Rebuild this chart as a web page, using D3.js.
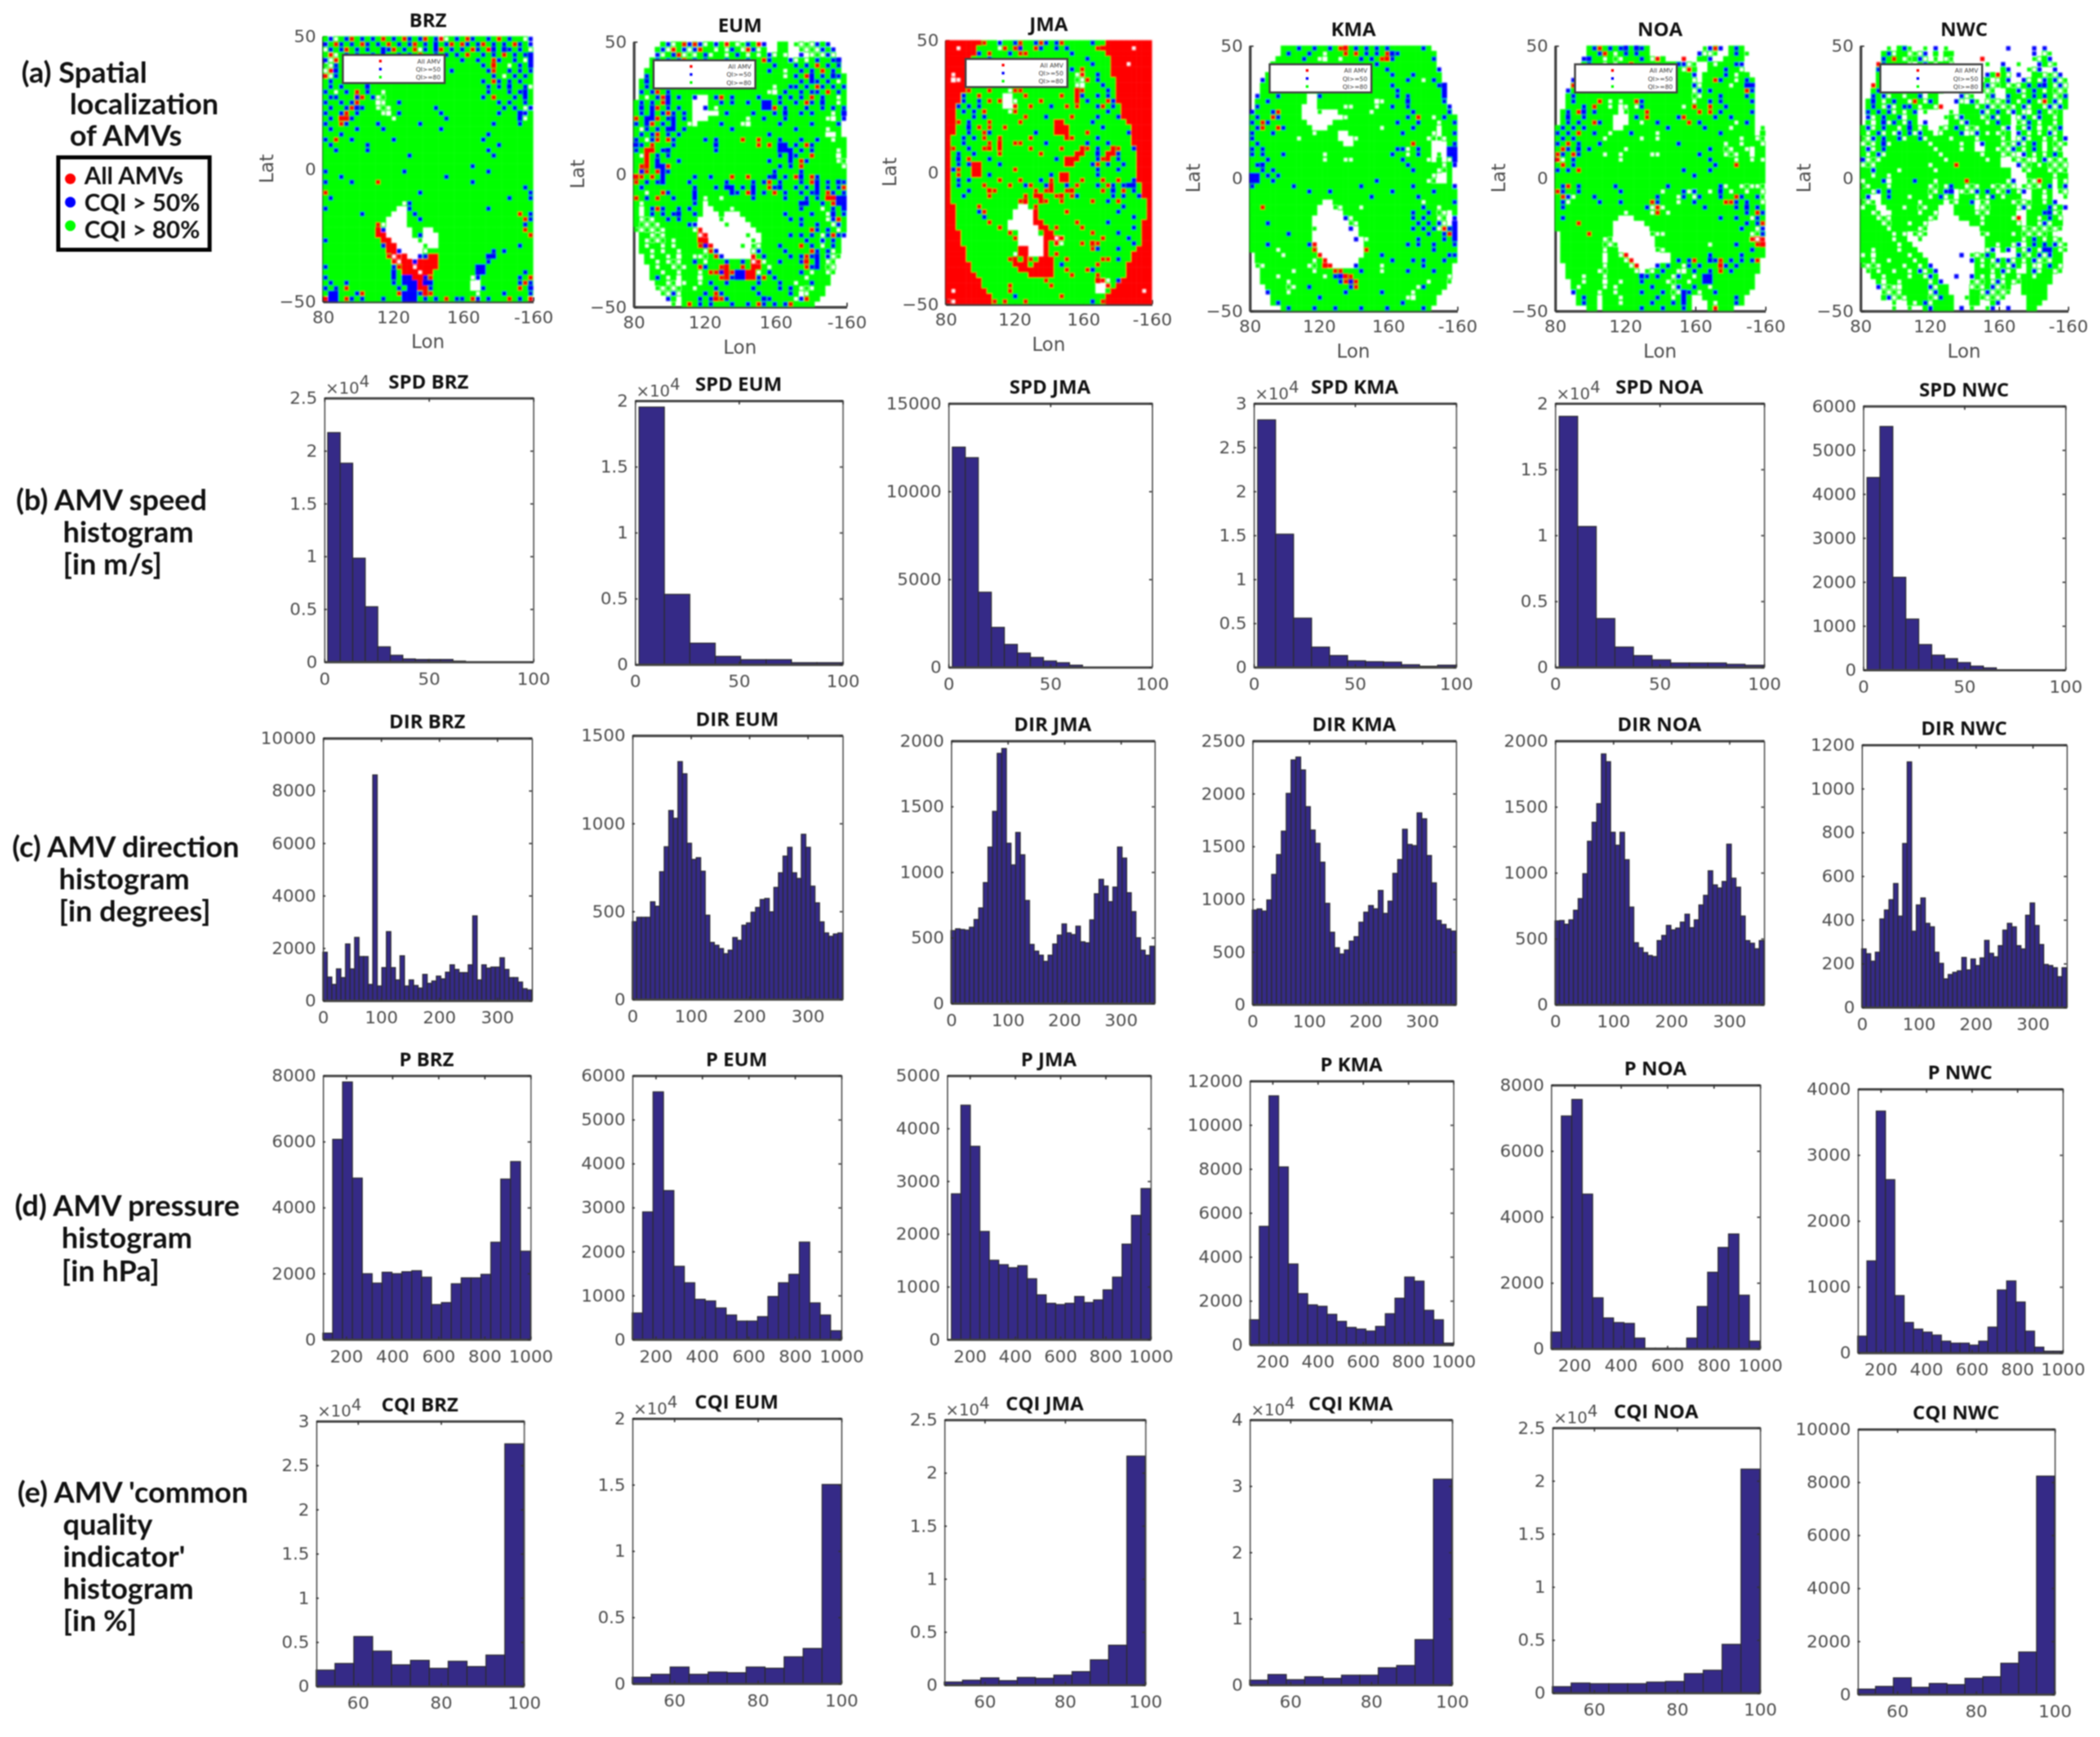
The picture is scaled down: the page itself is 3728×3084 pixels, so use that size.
<!DOCTYPE html>
<html>
<head>
<meta charset="utf-8">
<script src="https://cdnjs.cloudflare.com/ajax/libs/d3/7.8.5/d3.min.js"></script>
<style>
  body { margin: 0; background: #fff; }
  svg { display: block; filter: blur(0.9px); }
  .tick text { font-family: "DejaVu Sans", sans-serif; font-size: 13px; fill: #4d4d4d; }
</style>
</head>
<body>
<div id="chart"></div>
<script>
var agencies = ["BRZ", "EUM", "JMA", "KMA", "NOA", "NWC"];

// AMV speed histograms (axis units, so x10^4 panels are in 10^4)
var spdBrz = [2.17, 1.88, 0.98, 0.52, 0.14, 0.06, 0.025, 0.02, 0.02, 0.02, 0.005];
var spdEum = [1.95, 0.53, 0.16, 0.06, 0.035, 0.035, 0.012, 0.012];
var spdJma = [12500, 11900, 4250, 2250, 1280, 790, 540, 340, 240, 100];
var spdKma = [2.81, 1.51, 0.555, 0.226, 0.13, 0.07, 0.06, 0.055, 0.025, 0.008, 0.02];
var spdNoa = [1.9, 1.065, 0.367, 0.151, 0.086, 0.054, 0.03, 0.03, 0.03, 0.02, 0.013];
var spdNwc = [4370, 5530, 2100, 1150, 570, 330, 250, 160, 80, 40];
var spdFirst = [1.7, 2, 2, 2, 2, 2];
var spdBin = [6, 12.25, 6.4, 8.9, 8.9, 6.4];

// AMV direction histograms
var dirBrz = [1835, 890, 610, 1200, 870, 2150, 1200, 2400, 1670, 1670, 610, 8590, 550, 1250, 2620, 1250, 780, 1700, 550, 780, 570, 470, 990, 650, 740, 925, 820, 1075, 1355, 1180, 1060, 1060, 1355, 3220, 780, 1355, 1230, 1270, 1270, 1625, 1180, 870, 870, 700, 446, 400];
var dirEum = [440, 465, 465, 465, 553, 528, 724, 866, 1072, 1028, 1350, 1281, 886, 794, 804, 727, 477, 322, 306, 287, 258, 278, 350, 334, 420, 433, 494, 521, 566, 572, 496, 635, 718, 813, 863, 718, 686, 937, 863, 642, 547, 439, 376, 357, 370, 376];
var dirJma = [552, 566, 561, 556, 578, 637, 725, 918, 1189, 1461, 1903, 1940, 1218, 1053, 1300, 1130, 782, 447, 396, 365, 318, 365, 450, 518, 603, 535, 522, 586, 467, 459, 634, 833, 943, 892, 773, 884, 1189, 1105, 841, 697, 498, 403, 365, 433];
var dirKma = [895, 905, 885, 990, 1232, 1420, 1642, 2000, 2317, 2344, 2222, 1874, 1653, 1527, 1348, 958, 684, 537, 478, 516, 600, 642, 779, 874, 937, 906, 1080, 863, 979, 1242, 1373, 1660, 1516, 1505, 1815, 1759, 1411, 1152, 796, 758, 716, 695];
var dirNoa = [633, 636, 608, 641, 714, 802, 991, 1237, 1381, 1522, 1899, 1840, 1305, 1207, 1305, 1097, 738, 468, 430, 393, 371, 363, 484, 523, 599, 565, 579, 624, 684, 582, 641, 754, 827, 1013, 906, 883, 932, 1215, 957, 889, 670, 484, 464, 422, 484];
var dirNwc = [266, 244, 210, 251, 403, 444, 491, 565, 416, 748, 1121, 347, 467, 499, 383, 367, 251, 200, 129, 149, 159, 166, 227, 170, 220, 190, 225, 305, 246, 230, 281, 352, 383, 367, 281, 266, 420, 476, 373, 286, 195, 190, 180, 139, 180];

// AMV pressure histograms
var pBrz = [183, 6060, 7800, 4885, 1985, 1700, 2030, 1985, 2045, 2076, 1880, 1050, 1110, 1680, 1860, 1860, 1966, 2940, 4855, 5386, 2668];
var pEum = [595, 2895, 5625, 3380, 1658, 1283, 907, 870, 710, 550, 412, 412, 513, 971, 1283, 1475, 2208, 825, 550, 192];
var pJma = [2755, 4435, 3656, 2042, 1496, 1412, 1355, 1393, 1145, 840, 680, 656, 680, 809, 695, 744, 935, 1176, 1802, 2347, 2855];
var pKma = [1127, 5377, 11313, 8080, 3664, 2317, 1805, 1740, 1374, 1053, 779, 705, 614, 824, 1401, 2107, 3069, 2885, 1557, 1127, 64];
var pNoa = [500, 7053, 7554, 4684, 1539, 928, 788, 763, 318, 12, 12, 12, 12, 318, 1276, 2314, 3066, 3475, 1618, 226];
var pNwc = [249, 1390, 3662, 2622, 864, 456, 356, 310, 265, 173, 143, 143, 113, 173, 386, 949, 1086, 767, 325, 82, 21, 21];
var pFirst = [100, 100, 120, 100, 100, 100];

// common quality indicator histograms
var cqiBrz = [0.18, 0.255, 0.56, 0.395, 0.24, 0.29, 0.2, 0.28, 0.22, 0.35, 2.74];
var cqiEum = [0.046, 0.068, 0.123, 0.068, 0.085, 0.08, 0.123, 0.114, 0.2, 0.263, 1.5];
var cqiJma = [0.025, 0.042, 0.064, 0.038, 0.068, 0.06, 0.09, 0.123, 0.234, 0.372, 2.155];
var cqiKma = [0.068, 0.153, 0.075, 0.119, 0.095, 0.143, 0.143, 0.255, 0.289, 0.68, 3.1];
var cqiNoa = [0.057, 0.091, 0.085, 0.085, 0.085, 0.1, 0.106, 0.18, 0.212, 0.456, 2.108];
var cqiNwc = [186, 288, 610, 254, 398, 356, 593, 653, 1161, 1585, 8220];

// y tick labels per panel
var spdTicks = [[0, 0.5, 1, 1.5, 2, 2.5], [0, 0.5, 1, 1.5, 2], [0, 5000, 10000, 15000], [0, 0.5, 1, 1.5, 2, 2.5, 3], [0, 0.5, 1, 1.5, 2], [0, 1000, 2000, 3000, 4000, 5000, 6000]];
var dirTicks = [[0, 2000, 4000, 6000, 8000, 10000], [0, 500, 1000, 1500], [0, 500, 1000, 1500, 2000], [0, 500, 1000, 1500, 2000, 2500], [0, 500, 1000, 1500, 2000], [0, 200, 400, 600, 800, 1000, 1200]];
var pTicks = [[0, 2000, 4000, 6000, 8000], [0, 1000, 2000, 3000, 4000, 5000, 6000], [0, 1000, 2000, 3000, 4000, 5000], [0, 2000, 4000, 6000, 8000, 10000, 12000], [0, 2000, 4000, 6000, 8000], [0, 1000, 2000, 3000, 4000]];
var cqiTicks = [[0, 0.5, 1, 1.5, 2, 2.5, 3], [0, 0.5, 1, 1.5, 2], [0, 0.5, 1, 1.5, 2, 2.5], [0, 1, 2, 3, 4], [0, 0.5, 1, 1.5, 2, 2.5], [0, 2000, 4000, 6000, 8000, 10000]];
var spdExp = [1, 1, 0, 1, 1, 0];
var cqiExp = [1, 1, 1, 1, 1, 0];

var lonTicks = [80, 120, 160, 200];
var latTicks = [-50, 0, 50];

// spatial maps on a 3 deg x 2 deg grid, top row = 50N, first column = 80E
// g = CQI>80, b = CQI>50, r = all AMVs, . = nothing
var brzGrid = [
"gb.gbrgbgb grgbgrbgbr gbr.gbgrbg gbgrgbgg.b",
"bgrbgbgrbg bgrgbgbrgb gbgbrgrbgb rgbgbgrbgb",
".bgbrgbgbg gbbrgbgr.b gbrgbgbgrb grbgbbgbg.",
"gr.gbgbggb gbggbgbgrg gbgbgbgrgg bgbgrgbgbb",
"b.rgbggbgg gbgggbggbg ggbgggbggb ggrbggbg.b",
"g.bgggbggg bgggggbggg gbgggggggg bgrgg.gbgb",
".rbggggggg ggggbggggg ggggbggggg gbrggbgbgb",
"r.bgggbggg gggggggggg gggggggggg ggbg.gbgbg",
"gbggbgggbg gggggggggg gggggggggg bgrbgbgbgg",
"gbgbggggbg gggggggggg gggggggggg gbgbgbggb.",
"bg.gbgrgbg g.gggggggg gggggggggg gbgggbgbbg",
"gbbgggbrgb .ggggggggg gggggggggg bgrgggbgbg",
"bggbgbrggg ..ggbggggg gggggggggg gggbgbggbg",
"gbggbrbbgg .g.ggggggg gbgggggggg ggggbgbg.b",
"bggbrgbggg g..gbggggg ggbggggggg gggbgggbbg",
"gbgrrbgggg ggg.gggggg gggbgggggg gggggggb.g",
"bggrbggggg bgggggggbg gggggggggg ggbggggbgg",
"gbggggbggg gbgggggggg ggbggggggg gggggggggg",
"gggbgggggg gggggggggg gggggggggg gbgggggggg",
"bgrggbgggg gggbgggggg gggggggggg bggggggggg",
"gbggggggbg gggggggggg gggggggggg gggbgggggg",
"ggbgggggbg gggggggggg gggggggggg gbgggggggg",
"gggggggggg ggggggbggg gggggggggg ggbggggggg",
"gggggggggg gggggggggg gggggggggg gggggggggg",
"gggggggggg gggggggggg ggggggggbg gggggggggg",
"bggggggggg gggggbgggg gggggggggg gbgggggggg",
"gggbgggggg gggggggggg gggbgggggg gggggggggg",
"bggggbgggg rggggggggg ggggggggbg gggggggggg",
"gggggggggg gggggggggg gggggggggg ggggggggbg",
"rggggggggg ggggggggbg gggggggggg gggggggggb",
"gbgggggggg gggggggggg gggggggggg gggggbgggb",
"gggggggggg ggggg.bggg gggggggggg gggggggggg",
"bggggggggg gggg..bggg gggggggggg gbgggggggg",
"gggggggbgg ggg...gbgg gggggggggg gggggggrgb",
"gggggggggg gg....ggbg gggggggggg ggggggggrb",
"gggggggggg r.....gggg gggggggggg ggggggggbg",
"gggggggggg rb.....gg. .ggggggggg ggggggggrg",
"gggggggggg rr.....gb. ..gggggggg gggggggggr",
"bggggggggg grr.....g. ..gggggggg gggggggggg",
"gggggggggg gbrr.....g ..gggggggg gggggggbgg",
"gggggggggg ggrrb..... gggggggggg ggbgbggggg",
"gggggggggg ggr.rr..bb rrgggggggg gbbggggggg",
"gggggggggg gggr.rrbrr rrgggggggg gbgggggggg",
"bggggggggg gggbrrr.rr rrgggggggb bggggggggg",
"gggggggggg gggbgrrr.r rggggggggb bgggggggbg",
"bggggggggg gggbgbbrrb rggggggg.b gggggggbgr",
"gbggbggggg gggbgbbbrb bggggggg.. gggggggbrb",
"bgbgrggggg ggggbgbbrr bggggggg.. bggggggrgb",
"gbbgggbrgg ggggrbbbbr rgggggggg. ggggbggggb",
"rbbgrbgbgg gbgggbbbgb gbgrgbbgrb gbgggrgbgr"
];
var eumGrid = [
".....gb.gr brb.gbgrg. gbgrb..gg. g.g.bgb...",
"....gb.rgb .brgg.g.bg .rb.g..gg. .g.g.bgb..",
"....b.gbr. g.gb.gg.gb g.g.gb.g.. .b..g.b...",
"...gbgbgbr gbgbgggbgg gbggrbgggb .g.gbggbb.",
"...ggggggg gggggggggg ggggggbggg bgbgrgbgb.",
"..gggggggg gggggggggg gggggbgg.g gbgbgrgbg.",
"..bggggggg gggggggggg gggggggg.g bgrbgbgbbg",
".gbgrggggg gggggggggg gggggggggg gbgbbgbg.g",
".gbggggggg gggggggggg gggggg.ggb bgbgrbgbgb",
".bgbrgbggg gggggggggg ggggg..gbg gbgbbgrgbg",
".g.gbrbgbg gb..gbrgbg gggbgggbgb gbgrgbgg.g",
"gbgbgrbggg g...ggbgbg gbggbbgbgg bgrbgbgg.g",
"gbgbrgbgbg g..bg.gggg ggggbbrgbg ggbggbgbgb",
"gbgbgbrbgb g.....gbgg ggbgggbgbg gbgbggg.gb",
"rgbbrgbbgb g...gggggg g.ggbgggbg gggggg..gb",
"bgbrgbgbgg ..ggggbggg ..gggggbgg gggbggggb.",
"g.bgbgbbgb ggggggggbg gggggggggg bggggg.gg.",
"gbgbrgbgbg gggggggggg gggggbgggg gggggg..g.",
"bg.brgrbgg gggbgbgggg rggrgggbgg gbggbgg.gg",
"bbgrgggbgg gggggbgggg gggrgrgbbg bgrbgggggg",
"bgrrgbbggg gggggbgggg gggggggbbb gbgbgggg.g",
"g.rgbgbggg gggggggggg gggggggbgb bggrgggg.g",
"ggrgbgggbg gggggggggg gggggbgggb grbggggg.g",
"grrgbbrggg gggggggggg gggggggbgb grggggggg.",
"gbrgrbbggg gggggggggg ggggggbggg gbgggggggg",
"rrgrgbgggg gbggbgggrg grgggbbgbg rbgrbggggg",
"rgbgbbgggg bggggggbgg ggbgbrgbgg gbgrbgbgbb",
"gbgggggggg gbgggbgbbg bgbggrbbgg bgbgbgbgbr",
"gg.ggrbggg gbggggggbb grbgbgrgbg gbgbbgrbgb",
"rgbgrggbgg gbg.gg.ggg ggbgggggbg ggbgbgrrbb",
"g.gggggggg gbg.gggggg gggggggggg gbbggbgrbb",
"g.gbrbggbg bgg..ggg.g gggggggggg gbggg.gbgb",
"g.gbgbgbbg gbg...g... ggggggggbg gggbgg.bgb",
"g.g.ggbgbg gg....g... .ggggggggb gbgggg.brg",
"gg.g.ggggg bb.....g.. ..gggggggg gbggbgg.bg",
"g.g.g.gggg g.r....... ...ggggggg gggrbgbg.g",
".gg.g.gggg gg.r...... .g..gggggb gbgbg.brbb",
".g.g.gg.gg ggrr...... ..g.gggggg ggbggbgbg.",
".g.gg.g.gg ggrbr..... g.g.gggbgg grgbg.gbg.",
".gg.g.gg.g ggg.rb.... ...bggggbg gggrbgb.g.",
"..g.gg.g.g g..ggrb... ..rgbggggb gbrbbgb.g.",
"..gg.g.g.g gbg.gggbgg bg.r.ggbgg gbrgbg.g..",
"...g.gg.g. ggrbggrrgg rgrrg.gggg ggrbbgg...",
"...gg.gg.g gg.grrbrrb brr.gbgggg gbg.gg.g..",
"...gbg.g.g gg.gggrrbb brrbrgbggg gg.gggg...",
"....gg.g.. gg.gbggbgg gggbgggbgg .ggbggg...",
"....g.g.gg g.gggbgggg ggbggggbgb g.g.gg....",
".....g.b.g gggbgrbggg gggbgggggb g..ggg....",
"......bg.g ggbgbrrbgg ggggbbgggg .brgg.....",
".......g.g rgbgbgggbg gbgrbgbgbr gggg......"
];
var jmaGrid = [
"rrrrrrrrgg bggbrggbrb gbrgggggbg grrrrrrrrr",
"rr.rrrgggg .rgrbggrbg gbgbgggggr rrrrrr.rrr",
"rrrrrrbgrg ggbgrrgggg ggggbggggg grrrrrrrrr",
"rrrrrgggbg gggggggggg gggggggbgg ggrrrrrrrr",
"rrrrgggggg gggggggggg ggggggggbg ggrrr.rrrr",
"rrrrgggggg gggggggggg ggggbgrggg ggrrrrrrrr",
"r.rrgggggg gggggggggg ggggg.rggb ggrrrrrrrr",
"r..rgggggg gggggggggg gggggg.rgb gggrrrrrrr",
"rrrrgggggg gggggggggg ggggg..ggg bggrrrrrrr",
"rrrrrgggrg gg.rrggggg gggggrrggg gbgrrrrrrr",
"rrrbggrggg g..ggrgggg ggrggrbggb gbgrrrrrrr",
"rrrbggbgrg r...ggggrg gggggrgbgg grbrrrrrrr",
"rrbgbgbggg g..rggrggg bggrgrgggb rgbgrrrrrr",
"rrgbgbgrgg gg.rgggggg gggggggggg gbggrrrrrr",
"rrgggbgbgg gggggrgggb ggggrggggb gggbrrrrrr",
"rrrgbgggrg ggggrggggg grrgggggbg gggggrrrrr",
"rrggbgrgrg grgggggggg grrrgggggg bgggggrrrr",
"rrggbggrbg gggggggbgg grrrgggrgg gggggbrrrr",
"rggbgbgrgg rgggggrggg gggrrggggb ggggggrrrr",
"rggbggggrg rggrrggggb gggggggbgg gbggggrrrr",
"rrggbggrrg rgggggrggg ggrgggrrgb ggrrggbrrr",
"rgbggbgggg rgggggggrg gggggrrggb grrbgggrrr",
"rgbgrgggbg gggggggggg gbgrrrgggb rrgbgggrrr",
"rgbgbrrggg bggggggggg gggrrgggbr gbggbggrrr",
"rbrggrrggg gggrgggggg gggggggggb gggbgggrrr",
"rgrggrrgbg gggggggggg bgrrgggggb gggggggrrr",
"rgbgbggggg rgggrgggbg rgrrggrggg rggrggbrrr",
"rgbggggrgg ggrggbrggb rggbgrgggb grbgbbbgrr",
"rgggbgggrr gggggggrgr rggrrggggg rgbgrgbgrr",
"rggbggggrg gggggrgrrg grrgrbgggg ggbgbggbrr",
"rggggggggg ggggrrggrr ggrgggggrg gbgrgggggr",
"rrggggrggg gggg..grgg gggggggggg ggggbggggr",
"rrggggbrgg ggg....rgg gggrgggggg gggbgggggr",
"rrgggggbgg ggg....rgg gggggggggg ggggggbggr",
"rrggggggrg gg.....rrg gggggrgggg gbggggggrr",
"rrgggggggg rg......rr grggggrggg ggggggbgrr",
"rrrggggggg ggrg....gr rgggggggrg gggbggggrr",
"rrrggggggg gggr.....r r.rggggggg rggggbggrr",
"rrrggggggg gggg.....r gr.gggrgrr ggggggbgrr",
"rrrrgggggg ggggrr...r ggggggggrb gggbgggrrr",
"rrrrgggggg ggg.rr...r grgggggggg ggggggrrrr",
"rrrrgggggg ggrrgrrgrr rggrgggggg rrgbggrrrr",
"rrrrrggggg gggrrrgrrr rgbggggggr gggggrrrrr",
"rrrrrggggg ggggrrrrrr rggrgggrbg gggggrrrrr",
"rrrrrrgggg ggggggrrrr rgggrggggr gggggrrrrr",
"rrrrrrrggg gggggggggr gggggggggr r.gbrrrrrr",
"rrrrrrrggg ggrggggggg rgggggggg. .rgrrrrrrr",
"r.rrrrrrgg ggrggggggg ggggggggg. .grrrrrr.r",
"rrrrrrrrrg gggbgggggg ggrggggggg grrrrrrrrr",
"r.rrrrrrrr grgggrgggg ggggggggbg rrrrrrrrrr"
];
var kmaGrid = [
"......gggb ggbggbgrrg bgbgbgbggg gggbg.....",
"......gbgg gbgg.gggrg rgbgbgrbbg gggggg....",
".....ggggg bgg..gg.gg gbgbgrrbgg gggggb....",
"....gggggg gggggggggg ggggbggggg gggggg....",
"....gggggg gggggggggg ggggggbggg ggggggb...",
"...ggggggg gggggggggg gggggggbgg gbggggg...",
"..bggggggg gggggggggg gggggggggg bgg.gbg...",
"..gggggggg gggggggggg gggggggbgg ggggggbb..",
"..gggggggg gggggggggg ggggggggbg gggggggb..",
".bgggbgggg g..bgggggg ggggggggbg bggggggb..",
".ggbgggggg g..ggggggg gggg..gggg bggggggb..",
".bgggggggg ...ggggg.. gggg.ggbgg bgggggggb.",
"bgggbrgggg ...g...ggg ggg.gggggg gbggggggb.",
"gbggrbgggg .........g gggggggggg bgrgg.gbgg",
"bgrbgggggg g.....gggg ggggggggbg ggbggg.ggb",
"gbrggrbggg gg...ggggg ggggg.gggg gbgggg.ggg",
"bgggbggggg gg.gggg..g gggggggggb ggggg..ggb",
"bgggggggg. ggggggg... .ggggggggg gggg.gg.gg",
"gbgggggggg gggggggg.. gggggggggg grggg...gb",
"bgbggggggg gggggggggg ggggggggbb .gbgg...bb",
"bgbgggbggg gggg.ggggg gggggggbgg .gbgg.g.bb",
"gggbgggggg gggg.ggg.. gggggggggb gggg..g..b",
"gbbggggggg gggggggggg gggggggggg bgggggg.gb",
"ggbgbggggg gggggggggg gggggggggg gbgggg.gg.",
"bbgbgbgggg gggggggggg gggggggggg ggggg...g.",
"bbggbggggg gggggggggg ggggbggggg gggg.g..g.",
"bgggggggbg gggggggggg gbgggggggg gbgggggggb",
"gggggggggg gbgggbgggg gggggggbgg gggggbgggg",
"gggggggggg gggggggggg gggbgggggg ggbggggggg",
"gggggggggg gggg..gggg gggggggggg ggg.gggggb",
"ggrggggggg ggg...g.gg g.gggggggg gggbgg.ggg",
"gggggggggg ggg.....gg gggggggggg gbggbgg..g",
"gggggggggg gg......b. gggggggggg gbgbgg.g.b",
"gggbgggggg gg.......g .ggggggggg ggbgbgb..b",
"gggggggggg ggg......b .ggggggggg gbgbgb.rbb",
"gggggggbgg gg........ .ggggggggg ggggbggbrb",
"gggggggggg gg........ b..ggggggg ggbggggbgb",
"gggbgggggg gbr....... ..gggggggg bgbggbgggb",
"ggggg.gggg ggr....... ..rggggggg gggggbgggg",
".ggggg.ggg gggr...... ..gggbgggg ggggggggbb",
".ggggggggg gg.gr..... .ggggggbgg gbgbgggbgg",
".g.ggggggg g.ggrr.... bgggg.gggg gggbggggg.",
"..gggggg.g gg.gggrrgg gbggg.gggg bggggbggg.",
"..ggg.gggg gggg.gbbrr gggggggggg gggggggg..",
"..ggggg.gg gggggggbrb rggggggggg gggg.gggg.",
"...ggggg.g gbgggggggb rggggggggg gg.bgggg..",
"...bggg.gg ggggggggbg gggggbgggg g.ggggg...",
"....gggggg gggbgggggg gggggggggg ..gggg....",
"....gbgggg gggggggggg gggggggggb gggggg....",
"......gbgg ggbgggbggg gbggggbggg gggbg....."
];
var noaGrid = [
"......gbrg bgbbgbbg.. ........gb rb.gbg....",
"......ggbr g.gbgbgg.. .......b.. g..gbgg...",
".....bbgg. gg.gggbg.r g...r..ggb ..gggg....",
".....gbgg. g.ggrggggg gggbb.g..g .gggbb....",
"....gggggg gggggggggg gggg.rg..g ggbgg.....",
"....gggggg gggggggggg ggggggb.gg ggbg.gg...",
"...bgggggg gggggggggg gggggg..gg rbgg.gbg..",
"...rgggggg gggggggggg ggggggb.gg ggg.ggbb..",
"..bggggggg gggggggggg gggggg.bgb ggggggrb..",
"..gbgggggg gggggggggg ggggggg.gg gbggggbg..",
"..gbggggrg .g.ggrbggg gggggg.ggb gbgggggb..",
"..gggbgrgg .g..g.bggg gggg.grggr ggbggggg..",
".gbgrbgbgg gg.ggggrgg gggggggrgr gbgggggb..",
".gbggbgggg g...gbgrgg gggbrggggg bggbgggg..",
".gbgbggrbg g...gg.ggb gggggrgbgg gggg.gbg..",
"gbgbgbgggg g..ggggggg gbggggggbg ggg.gggg.g",
"bgbgrggbgg .gggbgggg. gggggggggg gbgggggg.g",
"gbgbggggg. gggggg.gg. gggggggggg ggggg.gg.g",
"bgrgbgggbg gggggggggg gggbgggggg gg.gg.ggg.",
"grbgbgbggg ggg.gggggg gggggggggb ggg.gg..gg",
"rbgrbgggg. gg.ggggg.. gggggggbgg gg.g.gg.gg",
"r.gbgggggg gg.ggggggg gggggggggb gggg.gg.g.",
"grgbgggggg gggggggggg gggggggggg bgggrggggg",
"bgbgrggggg gggggggggg ggggbggggb gggggggggg",
"gggggggggg gggggggggg ggggggbggg gggggggggg",
"gggggggggg gggggggggg gggggggggg gggggggggg",
"gbrgbggggg gbgggggggg gbgggggggg gb.gg.g..g",
"rbggbggggg ggbggggggg .gggb.bgg. gbg.gg.gg.",
"grb.gggbgg gggggggggb ggg.bg.bgg gbggrbggbg",
"gb.gggggbg ggbgggggrb ggg.ggbggg ggrrbgbgg.",
"gbgggggggg gggggggb.r .gggggggbg ggggbgbgbg",
"gggggggggg ggg.gggg.r g.gggggggg ggggggbgrb",
"gbgggggggg gg...ggggg gggggggggg gbggbgg.bg",
"ggggrggggg g......ggg gggggggggg ggggggbgbr",
"gggggggggg g.......gg gggggggggg gggggbgg.b",
".gggggrggg g.......g. .ggggggggg ggggggg.gb",
".gggggggg. g........g gggggggggg gggggggr.r",
".ggggggggg .g.......g ggggggggg. ggggbgggrr",
".gggggggg. gg.......g .ggggggggg gggggggbgg",
".gggggggg. gg.r...... ..gggggggb gggggbgggg",
".gggggggg. ggg.r..... ..gbgbrggb brgbgbgbr.",
"..ggggggg. gggg.r...b gbgg.bgbgg grbgbgggg.",
"..gggggg.g ggggg..g.g bgg..gbggb grgbggggg.",
"..ggg.ggg. ggggggbbgb gg.bgg.gbb gggggggg..",
"...gg.ggg. gg.gggbggg g.ggg.ggbb gggggggg..",
"...g.gggg. g.ggggggbg gg.bggbgg. gggggggg..",
"...bgggg.g g.ggggbggg bgg.bbg.gg bgggggg...",
"....gbgg.g gg.ggggggb gg.gbg..gg ggggbg....",
"....gbgg.g gg.gggggbg ggbgbg...g .gggbg....",
"......gg.g ggggggbggg bgggbg...g rggg......"
];
var nwcGrid = [
".....g.gbg ..g.b.g... ........b. ...b.b....",
"....gb.gg. g.b.g.gg.. .......... ...b..g...",
"....bgrg.g gb..g..g.. ...r...... ...g.gb...",
"...rbgggg. .gbg.gg... ....g..b.. g...bg.g..",
"...bg.ggrg ...g.ggg.. .......gb. ..g.b..b..",
"...ggggggg g..gg.ggg. ....bgrg.. b..gg.g.b.",
"...gggggg. gg.gg..gg. ..g.g..gb. .b.g.bgb.g",
"..rgggggg. gg.ggg.... ...gb.gg.g .gbgbbg.b.",
"..gbgggg.g gg..gg...g b..g.g..gg b.gbg.gg.g",
"..bgb.gg.g gb.gg....b .g..gb..bg g.gbgbg.gb",
".gbg.gbgg. rg.bg...b. .bg..g.gbg .gbg.rgb.g",
".gbg.b.gbb g.gg.r...g gg.gb.g.g. gb.gg.b.bg",
".bgbgb.g.g b.g....g.g gggb.gbg.b g..gbg.gg.",
".b.gbggb.g g.....gg.b ggg.gb.gg. .bg.bgg.g.",
".g.gb.bg.b g.b....gg. bggg.gbgg. g.bg.gg.g.",
"gb.gbgg.gb g.g..g.gbg .g.gggg.b. g.bg.g.gb.",
"g.gb.g.bgb .bgg..gggb ..bg.g.gg. bg.g.gb.g.",
"g.bgbggb.g gb.gggg.gg gg.gggg.g. .b.gg.g.gb",
".g.gb.gggg ggg.ggggg. gg.bggg.g. b.gbg.gg.g",
"gb.gbggggg gggg.gggg. gg..gg.g.b g.gbg.g.g.",
"g.gb.ggggg ggggg.gggg ggg.ggg.g. .bg.g.gbg.",
"b.g.gggggg gggggg.ggg gggg.gg..g .g..gb.g.g",
".g.ggggggg ggg.ggggrg ggggggg... b.gg.gg.g.",
"ggbgggg.gg gggg.ggggg ggggggggg. .g.ggg.g.g",
"gg.gg.gggg gggggggggg ggggggggg. ..ggggg.gg",
".gggb.gggg bggg.ggggg rggggggg.b ..g.rgg.g.",
"g.ggg.gggg ggg.gg.bgg .g.gg.g.g. .g.g.gb.gb",
"gg.bgbgggg gggg.gbb.. g.bgbg.gbg .b.gg.g.g.",
"gb..gbggg. ggg.gb.g.g gg.g.bg.gg g..gg.g..g",
"g.g.gggggg g.gggg.g.g gb.g.gggg. g.ggg.gb..",
".gg..ggg.g gg.gg...gg gg..gggggg .b.gggb.gb",
"gg.g..gggg g.gg....gg gg.g.ggggg ..gggbb.g.",
"ggg.g.gggg ggg.g....g ggg.ggggg. r.gg.gbg..",
"gggg.gggg. gg........ .gg.gggggg ..gg.b.gg.",
"ggggg.gggg g.g....... ...ggggggg g.g.g.g.g.",
"gggggg.g.. g.g....... ...g.gggg. gg.g.gg...",
"gggggg.gg. .g........ ....gggggg g.gbg.g.g.",
"ggggggg.gg .......... ....gg.gg. b.gbgbgb.g",
"gg.gggg.gg g......... .....b.gb. g.bg.bbg.g",
".g.gggggg. gg.......b .g.gbg.... bg.gb.bgg.",
"gg.gg.gggg .gg....... .bg.g.bgb. g.gb.g.gg.",
"g.g.gggg.g g.gb...... ..g.gg.g.b g.g..gbg..",
".gg.gg.gg. gb.gb..... ..ggg.gb.g ..gb.gg.g.",
"..gg.gggg. gg.bg...b. .bg.g.g.gg .gg.ggg...",
"...g.gg.gg ggg.gb.... .g.gg.b.g. ggggggg...",
"...b.g..gg gggb.gg... ..g.gb.gg. .ggggg....",
"....g.g.gg ggg.bgg... .gg.b.g.g. .ggggg....",
"....gb.g.g gggg.bgg.. gggg.g.g.. ..gggg....",
"......g..g .gb.gggg.. .gg..gb... ..ggg.....",
"......g..g ..gbgggg.b .g..gb..b. ..gg......"
];
var grids = [brzGrid, eumGrid, jmaGrid, kmaGrid, noaGrid, nwcGrid];

// panel boxes [left, right, top, bottom] in the 1568 wide drawing space
var boxA = [[241, 398, 27, 225], [473, 632, 31, 229], [706, 860, 30, 227], [933, 1088, 34, 232], [1161, 1318, 34, 232], [1389, 1544, 34, 232]];
var boxB = [[242, 398, 297, 494], [474, 629, 299, 496], [708, 860, 301, 498], [936, 1087, 301, 498], [1161, 1317, 301, 498], [1391, 1542, 303, 500]];
var boxC = [[241, 397, 551, 747], [472, 629, 549, 746], [710, 862, 553, 749], [935, 1087, 553, 750], [1161, 1317, 553, 750], [1390, 1543, 556, 752]];
var boxD = [[241, 396, 803, 1000], [472, 628, 803, 1000], [707, 859, 803, 1000], [933, 1085, 807, 1004], [1158, 1314, 810, 1007], [1387, 1540, 813, 1010]];
var boxE = [[236, 391, 1061, 1259], [472, 628, 1059, 1257], [705, 855, 1060, 1258], [933, 1084, 1060, 1258], [1159, 1314, 1066, 1264], [1387, 1534, 1067, 1265]];

var sideLabels = [
  {x: 16, y: 62, text: "(a) Spatial"}, {x: 52, y: 85.5, text: "localization"}, {x: 52, y: 109, text: "of AMVs"},
  {x: 12, y: 381, text: "(b) AMV speed"}, {x: 47, y: 405, text: "histogram"}, {x: 47, y: 429, text: "[in m/s]"},
  {x: 9, y: 640, text: "(c) AMV direction"}, {x: 44, y: 664, text: "histogram"}, {x: 44, y: 688, text: "[in degrees]"},
  {x: 11, y: 908, text: "(d) AMV pressure"}, {x: 46, y: 932, text: "histogram"}, {x: 46, y: 957, text: "[in hPa]"},
  {x: 13, y: 1122, text: "(e) AMV 'common"}, {x: 47, y: 1146, text: "quality"}, {x: 47, y: 1170, text: "indicator'"}, {x: 47, y: 1194, text: "histogram"}, {x: 47, y: 1218, text: "[in %]"}
];
var keyNames = ["All AMVs", "CQI > 50%", "CQI > 80%"];
var smallKeyNames = ["All AMV", "QI>=50", "QI>=80"];
var keyColors = ["#ff0000", "#0000ff", "#00ff00"];
var cellColor = {g: "#00ff00", b: "#0000ff", r: "#ff0000"};

var svg = d3.select("#chart").append("svg")
  .attr("width", 3728)
  .attr("height", 3084)
  .attr("viewBox", "0 0 1568 1297.1");

svg.append("defs").append("filter").attr("id", "soft")
  .attr("x", "-5%").attr("y", "-5%").attr("width", "110%").attr("height", "110%")
  .append("feGaussianBlur").attr("stdDeviation", 0.4);

function addTitle(g, w, text) {
  g.append("text")
    .attr("x", w / 2)
    .attr("y", -7)
    .attr("text-anchor", "middle")
    .style("font-family", "'Open Sans', sans-serif")
    .style("font-weight", 700)
    .style("font-size", "14.6px")
    .style("fill", "#111")
    .text(text);
}

function styleAxis(sel, width) {
  sel.select(".domain").attr("stroke", "#444").attr("stroke-width", width);
  sel.selectAll(".tick line").attr("stroke", "#333").attr("stroke-width", 1);
}

// cell list of one map: lone cells shrink to a speck, as they do in the scatter
function gridPoints(grid) {
  var rows = grid.map(function(row) { return row.split(" ").join("").slice(0, 40); });
  var at = function(r, k) { return rows[r] && rows[r][k] ? rows[r][k] : "."; };
  var pts = [];
  rows.forEach(function(row, r) {
    row.split("").forEach(function(c, k) {
      var around = [at(r - 1, k), at(r + 1, k), at(r, k - 1), at(r, k + 1)];
      var filled = around.filter(function(n) { return n != "."; });
      var same = around.filter(function(n) { return n == c; }).length;
      // colour that mostly surrounds this cell
      var under = filled.filter(function(n) { return n == "r"; }).length >= 3 ? cellColor.r : cellColor.g;
      var lon = 80 + k * 3, lat = 50 - r * 2;
      if (c == ".") {
        if (filled.length >= 3) {
          pts.push({lon: lon, lat: lat, color: under, size: 1});
          pts.push({lon: lon, lat: lat, color: "#ffffff", size: 0.55});
        }
      } else if (c == "g") {
        pts.push({lon: lon, lat: lat, color: cellColor.g, size: filled.length >= 2 ? 1 : 0.7});
      } else if (same >= 2) {
        pts.push({lon: lon, lat: lat, color: cellColor[c], size: 1});
      } else {
        if (filled.length >= 3) pts.push({lon: lon, lat: lat, color: under, size: 1});
        pts.push({lon: lon, lat: lat, color: cellColor[c], size: 0.78});
      }
    });
  });
  return pts;
}

function scatterPanel(box, name, grid) {
  var w = box[1] - box[0], h = box[3] - box[2];
  var g = svg.append("g").attr("transform", "translate(" + box[0] + "," + box[2] + ")");
  var x = d3.scaleLinear().domain([80, 200]).range([0, w]);
  var y = d3.scaleLinear().domain([-50, 50]).range([h, 0]);

  g.append("g").attr("transform", "translate(0," + h + ")")
    .call(d3.axisBottom(x).tickValues(lonTicks).tickSize(-3).tickSizeOuter(0).tickPadding(7)
      .tickFormat(function(d) { return d > 180 ? d - 360 : d; }))
    .call(styleAxis, 2);
  g.append("g")
    .call(d3.axisLeft(y).tickValues(latTicks).tickSize(-3).tickSizeOuter(0).tickPadding(5))
    .call(styleAxis, 2);

  g.append("g").attr("filter", "url(#soft)")
    .selectAll("rect")
    .data(gridPoints(grid))
    .enter()
    .append("rect")
    .attr("x", function(d) { return x(d.lon + 1.5 * (1 - d.size)); })
    .attr("y", function(d) { return y(d.lat - (1 - d.size)); })
    .attr("width", function(d) { return x(80 + 3 * d.size) - x(80) + 0.2; })
    .attr("height", function(d) { return y(50 - 2 * d.size) - y(50) + 0.2; })
    .attr("fill", function(d) { return d.color; });

  // legend inside the map
  var key = g.append("g").attr("transform", "translate(15,14)");
  key.append("rect").attr("width", 76).attr("height", 21).attr("fill", "#fff").attr("stroke", "#444").attr("stroke-width", 1.5);
  smallKeyNames.forEach(function(t, i) {
    key.append("rect").attr("x", 27).attr("y", 3.6 + i * 6).attr("width", 2).attr("height", 2).attr("fill", keyColors[i]);
    key.append("text").attr("x", 73).attr("y", 6.4 + i * 6)
      .attr("text-anchor", "end")
      .style("font-family", "'DejaVu Sans', sans-serif")
      .style("font-size", "4.6px")
      .style("fill", "#444")
      .text(t);
  });

  addTitle(g, w, name);
  g.append("text")
    .attr("x", w / 2).attr("y", h + 35)
    .attr("text-anchor", "middle")
    .style("font-family", "'DejaVu Sans', sans-serif").style("font-size", "14px").style("fill", "#4d4d4d")
    .text("Lon");
  g.append("text")
    .attr("transform", "translate(-37," + (h / 2) + ") rotate(-90)")
    .attr("text-anchor", "middle")
    .style("font-family", "'DejaVu Sans', sans-serif").style("font-size", "14px").style("fill", "#4d4d4d")
    .text("Lat");
}

function histPanel(box, title, values, first, bin, xDomain, xTicks, yTicks, hasExp) {
  var w = box[1] - box[0], h = box[3] - box[2];
  var g = svg.append("g").attr("transform", "translate(" + box[0] + "," + box[2] + ")");
  var x = d3.scaleLinear().domain(xDomain).range([0, w]);
  var y = d3.scaleLinear().domain([0, yTicks[yTicks.length - 1]]).range([h, 0]);
  var fmt = function(d) { return String(d); };

  g.selectAll("rect.bar")
    .data(values)
    .enter()
    .append("rect")
    .attr("class", "bar")
    .attr("x", function(d, i) { return x(first + i * bin); })
    .attr("y", function(d) { return y(d); })
    .attr("width", x(first + bin) - x(first))
    .attr("height", function(d) { return h - y(d); })
    .attr("fill", "#352a87")
    .attr("stroke", "#2b2b2b")
    .attr("stroke-width", 0.7);

  g.append("g").attr("transform", "translate(0," + h + ")")
    .call(d3.axisBottom(x).tickValues(xTicks).tickSize(-2).tickSizeOuter(0).tickPadding(8).tickFormat(fmt))
    .call(styleAxis, 1.6);
  g.append("g")
    .call(d3.axisTop(x).tickValues(xTicks).tickSize(-3).tickSizeOuter(0).tickFormat(""))
    .call(styleAxis, 1.8);
  g.append("g")
    .call(d3.axisLeft(y).tickValues(yTicks).tickSize(-2).tickSizeOuter(0).tickPadding(5).tickFormat(fmt))
    .call(styleAxis, 0.9);
  g.append("g").attr("transform", "translate(" + w + ",0)")
    .call(d3.axisRight(y).tickValues(yTicks).tickSize(-2).tickSizeOuter(0).tickFormat(""))
    .call(styleAxis, 0.9);

  addTitle(g, w, title);

  if (hasExp) {
    var ex = g.append("text")
      .attr("x", 1).attr("y", -3)
      .style("font-family", "'DejaVu Sans', sans-serif").style("font-size", "12px").style("fill", "#4d4d4d");
    ex.append("tspan").text("\u00d710");
    ex.append("tspan").attr("dy", -5).style("font-size", "12px").text("4");
  }
}

// row (a)
agencies.forEach(function(a, i) {
  scatterPanel(boxA[i], a, grids[i]);
});

// rows (b) to (e)
var spdSeries = [spdBrz, spdEum, spdJma, spdKma, spdNoa, spdNwc];
var dirSeries = [dirBrz, dirEum, dirJma, dirKma, dirNoa, dirNwc];
var pSeries = [pBrz, pEum, pJma, pKma, pNoa, pNwc];
var cqiSeries = [cqiBrz, cqiEum, cqiJma, cqiKma, cqiNoa, cqiNwc];

agencies.forEach(function(a, i) {
  histPanel(boxB[i], "SPD " + a, spdSeries[i], spdFirst[i], spdBin[i], [0, 100], [0, 50, 100], spdTicks[i], spdExp[i]);
  histPanel(boxC[i], "DIR " + a, dirSeries[i], 0, 360 / dirSeries[i].length, [0, 360], [0, 100, 200, 300], dirTicks[i], 0);
  histPanel(boxD[i], "P " + a, pSeries[i], pFirst[i], (1000 - pFirst[i]) / pSeries[i].length, [100, 1000], [200, 400, 600, 800, 1000], pTicks[i], 0);
  histPanel(boxE[i], "CQI " + a, cqiSeries[i], 50, 50 / cqiSeries[i].length, [50, 100], [60, 80, 100], cqiTicks[i], cqiExp[i]);
});

// row labels on the left
svg.selectAll("text.side")
  .data(sideLabels)
  .enter()
  .append("text")
  .attr("class", "side")
  .attr("x", function(d) { return d.x; })
  .attr("y", function(d) { return d.y; })
  .style("font-family", "Lato, sans-serif")
  .style("font-weight", 700)
  .style("font-size", "22px")
  .style("fill", "#111")
  .text(function(d) { return d.text; });

// big legend
svg.append("rect").attr("x", 43.5).attr("y", 117.5).attr("width", 113).attr("height", 69)
  .attr("fill", "#fff").attr("stroke", "#000").attr("stroke-width", 3);
keyNames.forEach(function(t, i) {
  svg.append("circle").attr("cx", 52.5).attr("cy", 133.5 + i * 17.5).attr("r", 4).attr("fill", keyColors[i]);
  svg.append("text").attr("x", 63).attr("y", 137.5 + i * 20.3)
    .style("font-family", "Lato, sans-serif")
    .style("font-weight", 700)
    .style("font-size", "18px")
    .style("fill", "#111")
    .text(t);
});
</script>
</body>
</html>
